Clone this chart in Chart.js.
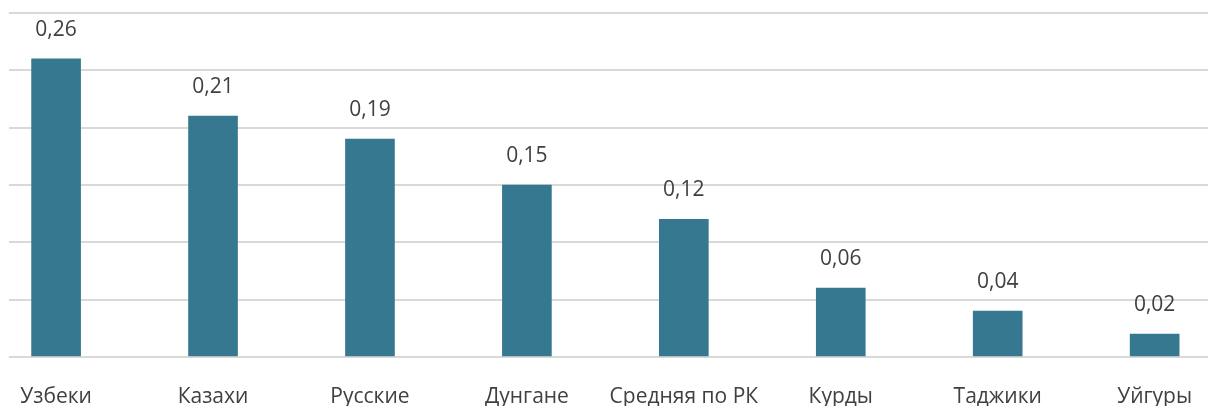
<!DOCTYPE html>
<html>
<head>
<meta charset="utf-8">
<script src="https://cdn.jsdelivr.net/npm/chart.js@4"></script>
<style>
  html, body { margin: 0; padding: 0; background: #ffffff; }
  #wrap { width: 1208px; height: 408px; position: relative; }
</style>
</head>
<body>
<div id="wrap"><canvas id="chart"></canvas></div>
<script>
// Categories and values
const categories = ['Узбеки', 'Казахи', 'Русские', 'Дунгане', 'Средняя по РК', 'Курды', 'Таджики', 'Уйгуры'];
const values = [0.26, 0.21, 0.19, 0.15, 0.12, 0.06, 0.04, 0.02];
const yTicks = [0, 0.05, 0.10, 0.15, 0.20, 0.25, 0.30];

const barColor = '#35788F';
const textColor = '#404040';
const fontFamily = '"Open Sans", "Noto Sans", sans-serif';

// Writes each bar's value (comma decimal) above the bar
const valueLabels = {
  id: 'valueLabels',
  afterDatasetsDraw(chart) {
    const ctx = chart.ctx;
    const meta = chart.getDatasetMeta(0);
    ctx.save();
    ctx.font = '21px ' + fontFamily;
    ctx.fillStyle = textColor;
    ctx.textAlign = 'center';
    ctx.textBaseline = 'alphabetic';
    meta.data.forEach((bar, i) => {
      const txt = values[i].toFixed(2).replace('.', ',');
      ctx.fillText(txt, bar.x, bar.y - 23);
    });
    ctx.restore();
  }
};

new Chart(document.getElementById('chart'), {
  type: 'bar',
  data: {
    datasets: [{
      data: values.map((v, i) => ({ x: i, y: v })),
      backgroundColor: barColor,
      borderWidth: 0,
      barThickness: 49
    }]
  },
  options: {
    responsive: true,
    maintainAspectRatio: false,
    animation: false,
    layout: { padding: { left: 9, right: 0, top: 13, bottom: 2 } },
    plugins: { legend: { display: false }, tooltip: { enabled: false } },
    scales: {
      x: {
        type: 'linear',
        offset: false,
        min: -0.3,
        max: 7.34,
        afterBuildTicks(scale) {
          scale.ticks = categories.map((c, i) => ({ value: i }));
        },
        afterFit(scale) {
          scale.height = 49;
          scale.paddingLeft = 0;
          scale.paddingRight = 0;
        },
        grid: { display: false, drawTicks: false },
        border: { display: false },
        ticks: {
          autoSkip: false,
          maxRotation: 0,
          padding: 27,
          color: textColor,
          font: { family: fontFamily, size: 21 },
          callback: (v) => categories[v] ?? ''
        }
      },
      y: {
        min: 0,
        max: 0.30,
        afterBuildTicks(scale) {
          scale.ticks = yTicks.map(v => ({ value: v }));
        },
        grid: { color: '#d9d9d9', lineWidth: 2, drawTicks: false },
        border: { display: false },
        ticks: { display: false }
      }
    }
  },
  plugins: [valueLabels]
});
</script>
</body>
</html>
